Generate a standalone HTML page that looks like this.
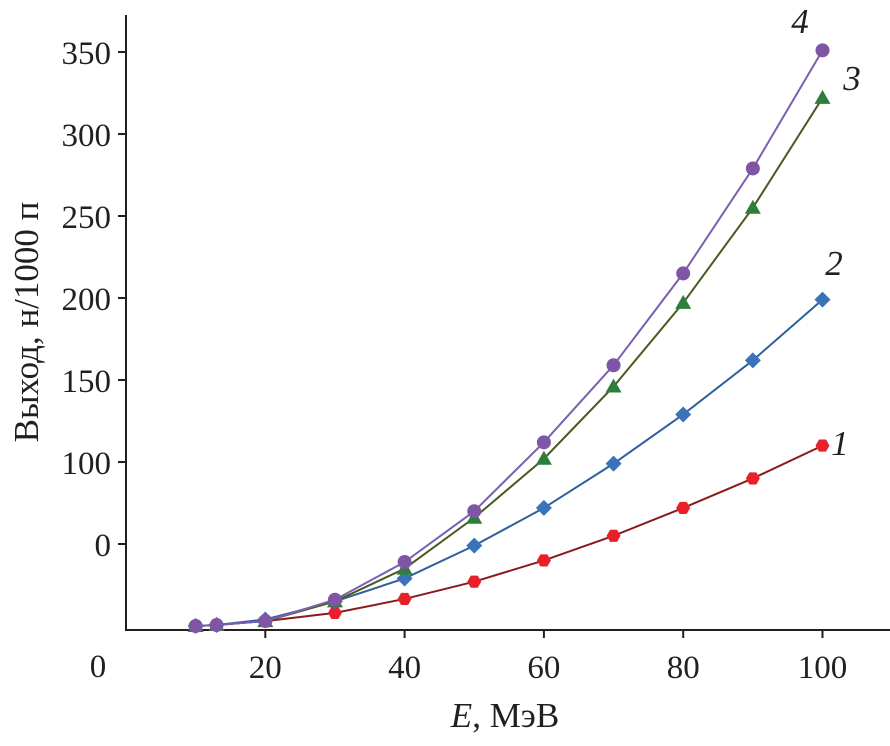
<!DOCTYPE html>
<html><head><meta charset="utf-8"><style>
body{margin:0;background:#fff}
svg text{font-family:"Liberation Serif",serif;fill:#231f20}
</style></head><body>
<svg width="890" height="741">
<g id="axes"></g>
<g id="series"></g>
<text x="505" y="727" font-size="35" text-anchor="middle"><tspan font-style="italic">E</tspan>, МэВ</text>
<text transform="translate(38,322) rotate(-90)" font-size="35" text-anchor="middle">Выход, н/1000 п</text>
<text x="98" y="677" font-size="33" text-anchor="middle">0</text>
</svg>
<script>
const xVals=[10,13,20,30,40,50,60,70,80,90,100];
const s1=[0,0.6,3,8,16.5,27,40,55,72,90,110];
const s2=[0,0.6,4,15,29,49,72,99,129,162,199];
const s3=[0,0.6,3,15,35,66,102,146,197,255,322];
const s4=[0,0.6,3,16,39,70,112,159,215,279,351];
const xTicks=[20,40,60,80,100];
const yTicks=[50,100,150,200,250,300,350];
const yTickLabels=["0","100","150","200","250","300","350"];
const NS="http://www.w3.org/2000/svg";
const X=v=>126+v*6.965;
const Y=v=>626-v*1.64;
function mk(t,a,p){const e=document.createElementNS(NS,t);for(const k in a)e.setAttribute(k,a[k]);p.appendChild(e);return e;}
const ax=document.getElementById('axes');
let l=mk('line',{x1:126,y1:15,x2:126,y2:630,stroke:'#231f20','stroke-width':2},ax);


l=mk('line',{x1:125,y1:630,x2:890,y2:630,stroke:'#231f20','stroke-width':2},ax);


xTicks.forEach(v=>{
 const t=mk('line',{x1:X(v),x2:X(v),y1:630,y2:638,stroke:'#231f20','stroke-width':2},ax);
 
 
 const tx=mk('text',{x:X(v),y:678,'font-size':33,'text-anchor':'middle'},ax);tx.textContent=v;
 
 
});
yTicks.forEach((v,i)=>{
 const t=mk('line',{x1:118,x2:126,y1:Y(v),y2:Y(v),stroke:'#231f20','stroke-width':2},ax);
 
 
 const tx=mk('text',{x:111,y:Y(v)+12,'font-size':33,'text-anchor':'end'},ax);tx.textContent=yTickLabels[i];
 
 
});
const sg=document.getElementById('series');
const defs=[
 {d:s1,line:'#8b1a1a',fill:'#e8202a',m:'hex',lab:'1',lx:840,ly:455},
 {d:s2,line:'#2f5f9e',fill:'#3b73ba',m:'dia',lab:'2',lx:834,ly:275},
 {d:s3,line:'#4a5a1e',fill:'#2f7d3a',m:'tri',lab:'3',lx:852,ly:90},
 {d:s4,line:'#7b5fb0',fill:'#7f55a6',m:'cir',lab:'4',lx:800,ly:33}
];
defs.forEach((s,si)=>{
 const g=mk('g',{},sg);
 
 
 const pts=xVals.map((x,i)=>X(x)+','+Y(s.d[i])).join(' ');
 const pl=mk('polyline',{points:pts,fill:'none',stroke:s.line,'stroke-width':2},g);
 
 
 xVals.forEach((x,i)=>{
  const cx=X(x),cy=Y(s.d[i]);let e;
  if(s.m==='cir')e=mk('circle',{cx:cx,cy:cy,r:7,fill:s.fill},g);
  else if(s.m==='dia')e=mk('polygon',{points:`${cx},${cy-8} ${cx+8},${cy} ${cx},${cy+8} ${cx-8},${cy}`,fill:s.fill},g);
  else if(s.m==='tri')e=mk('polygon',{points:`${cx},${cy-8} ${cx+8},${cy+6} ${cx-8},${cy+6}`,fill:s.fill},g);
  else{let p=[];for(let k=0;k<6;k++){const a=Math.PI/3*k;p.push((cx+7*Math.cos(a))+','+(cy+7*Math.sin(a)));}e=mk('polygon',{points:p.join(' '),fill:s.fill},g);}
  
  
 });
 const t=mk('text',{x:s.lx,y:s.ly,'font-size':35,'font-style':'italic','text-anchor':'middle'},g);t.textContent=s.lab;
 
 
});
</script>
</body></html>
